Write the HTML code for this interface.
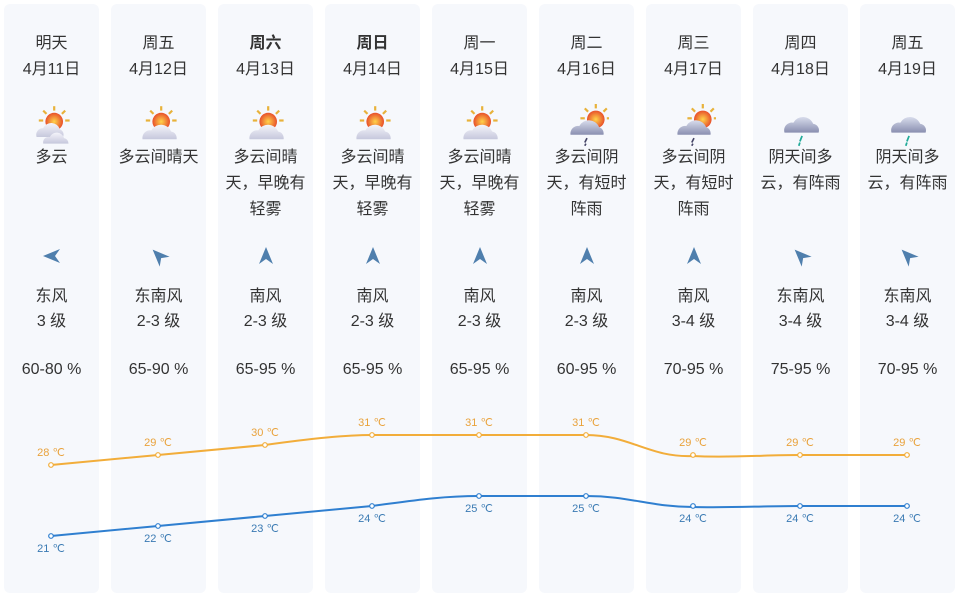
<!DOCTYPE html>
<html><head><meta charset="utf-8"><style>
body{margin:0;width:964px;height:601px;background:#fff;position:relative;overflow:hidden;font-family:"Liberation Sans","Noto Sans CJK SC",sans-serif;color:#333}
.c{position:absolute;top:4px;width:95px;height:589px;background:#f6f8fc;border-radius:6px;text-align:center;font-size:16px}
.c div{position:absolute;left:-4px;width:103px}
.d{top:27px;line-height:26px}
.ds{top:141px;line-height:26px}
.w{top:280px;line-height:25px}
.h{top:357px}
.ic{position:absolute;left:26px;top:100px}
.ar{position:absolute;left:37px;top:241px}
b{font-weight:bold}
</style></head><body>
<svg width="0" height="0" style="position:absolute">
<defs>
<linearGradient id="cl" x1="0" y1="0" x2="0" y2="1"><stop offset="0" stop-color="#f4f4fa"/><stop offset="1" stop-color="#c6c8dc"/></linearGradient>
<linearGradient id="dk" x1="0" y1="0" x2="0" y2="1"><stop offset="0" stop-color="#d8dcec"/><stop offset="1" stop-color="#8a8fb0"/></linearGradient>
<radialGradient id="sn"><stop offset="0" stop-color="#ffd34a"/><stop offset="1" stop-color="#e8502a"/></radialGradient>
<g id="sun"><g stroke="#e8b23a" stroke-width="2"><line x1="22" y1="2" x2="22" y2="6"/><line x1="12" y1="6" x2="15" y2="9"/><line x1="32" y1="6" x2="29" y2="9"/><line x1="8" y1="15" x2="12" y2="15"/><line x1="36" y1="15" x2="32" y2="15"/></g><circle cx="22" cy="16" r="8" fill="url(#sn)"/></g>
<g id="i1"><use href="#sun"/><path d="M6 30a6 6 0 0 1 6-8a8 8 0 0 1 15 1a5 5 0 0 1 3 7z" fill="url(#cl)"/><path d="M12 36a5 5 0 0 1 6-6a7 7 0 0 1 13 1a5 5 0 0 1 4 5z" fill="url(#cl)"/></g>
<g id="i2"><use href="#sun"/><path d="M5 32a7 7 0 0 1 8-8a10 10 0 0 1 18 1a6 6 0 0 1 5 7z" fill="url(#cl)"/></g>
<g id="i3"><use href="#sun" transform="translate(6,-2)"/><path d="M5 28a7 7 0 0 1 8-8a10 10 0 0 1 18 1a6 6 0 0 1 4 7z" fill="url(#dk)"/><path d="M20 31l-2 4M19 36l-1 2" stroke="#446" stroke-width="1.5"/></g>
<g id="i4"><path d="M5 26a7 7 0 0 1 8-9a10 10 0 0 1 18 1a6 6 0 0 1 5 8z" fill="url(#dk)"/><path d="M21 29l-2 5M19 35l-1 3" stroke="#2a9" stroke-width="1.6"/></g>
<polygon id="ar" points="0,-9 7,8 0,3 -7,8" fill="#4f7fad"/>
</defs></svg>

<div class="c" style="left:4px"><div class="d">明天<br>4月11日</div><svg class="ic" width="44" height="44" viewBox="0 0 40 40"><use href="#i1"/></svg><div class="ds">多云</div><svg class="ar" width="22" height="22"><use href="#ar" transform="translate(11,11) rotate(-90)"/></svg><div class="w">东风<br>3 级</div><div class="h">60-80 %</div></div>
<div class="c" style="left:111px"><div class="d">周五<br>4月12日</div><svg class="ic" width="44" height="44" viewBox="0 0 40 40"><use href="#i2"/></svg><div class="ds">多云间晴天</div><svg class="ar" width="22" height="22"><use href="#ar" transform="translate(11,11) rotate(-45)"/></svg><div class="w">东南风<br>2-3 级</div><div class="h">65-90 %</div></div>
<div class="c" style="left:218px"><div class="d"><b>周六</b><br>4月13日</div><svg class="ic" width="44" height="44" viewBox="0 0 40 40"><use href="#i2"/></svg><div class="ds">多云间晴<br>天，早晚有<br>轻雾</div><svg class="ar" width="22" height="22"><use href="#ar" transform="translate(11,11)"/></svg><div class="w">南风<br>2-3 级</div><div class="h">65-95 %</div></div>
<div class="c" style="left:325px"><div class="d"><b>周日</b><br>4月14日</div><svg class="ic" width="44" height="44" viewBox="0 0 40 40"><use href="#i2"/></svg><div class="ds">多云间晴<br>天，早晚有<br>轻雾</div><svg class="ar" width="22" height="22"><use href="#ar" transform="translate(11,11)"/></svg><div class="w">南风<br>2-3 级</div><div class="h">65-95 %</div></div>
<div class="c" style="left:432px"><div class="d">周一<br>4月15日</div><svg class="ic" width="44" height="44" viewBox="0 0 40 40"><use href="#i2"/></svg><div class="ds">多云间晴<br>天，早晚有<br>轻雾</div><svg class="ar" width="22" height="22"><use href="#ar" transform="translate(11,11)"/></svg><div class="w">南风<br>2-3 级</div><div class="h">65-95 %</div></div>
<div class="c" style="left:539px"><div class="d">周二<br>4月16日</div><svg class="ic" width="44" height="44" viewBox="0 0 40 40"><use href="#i3"/></svg><div class="ds">多云间阴<br>天，有短时<br>阵雨</div><svg class="ar" width="22" height="22"><use href="#ar" transform="translate(11,11)"/></svg><div class="w">南风<br>2-3 级</div><div class="h">60-95 %</div></div>
<div class="c" style="left:646px"><div class="d">周三<br>4月17日</div><svg class="ic" width="44" height="44" viewBox="0 0 40 40"><use href="#i3"/></svg><div class="ds">多云间阴<br>天，有短时<br>阵雨</div><svg class="ar" width="22" height="22"><use href="#ar" transform="translate(11,11)"/></svg><div class="w">南风<br>3-4 级</div><div class="h">70-95 %</div></div>
<div class="c" style="left:753px"><div class="d">周四<br>4月18日</div><svg class="ic" width="44" height="44" viewBox="0 0 40 40"><use href="#i4"/></svg><div class="ds">阴天间多<br>云，有阵雨</div><svg class="ar" width="22" height="22"><use href="#ar" transform="translate(11,11) rotate(-45)"/></svg><div class="w">东南风<br>3-4 级</div><div class="h">75-95 %</div></div>
<div class="c" style="left:860px"><div class="d">周五<br>4月19日</div><svg class="ic" width="44" height="44" viewBox="0 0 40 40"><use href="#i4"/></svg><div class="ds">阴天间多<br>云，有阵雨</div><svg class="ar" width="22" height="22"><use href="#ar" transform="translate(11,11) rotate(-45)"/></svg><div class="w">东南风<br>3-4 级</div><div class="h">70-95 %</div></div>

<svg width="964" height="601" style="position:absolute;left:0;top:0" font-family="Liberation Sans, sans-serif" font-size="11" text-anchor="middle">
<path d="M51 465L158 455L265 445C300 440 340 435 372 435L586 435C630 435 650 458 693 456C730 458 760 455 800 455L907 455" fill="none" stroke="#f2ad3a" stroke-width="2"/>
<path d="M51 536L158 526L265 516L372 506C410 501 440 496 479 496L586 496C630 496 650 507 693 507C730 508 760 506 800 506L907 506" fill="none" stroke="#2f7fd0" stroke-width="2"/>
<g fill="#fff" stroke="#f2ad3a" stroke-width="1.2">
<circle cx="51" cy="465" r="2.3"/><circle cx="158" cy="455" r="2.3"/><circle cx="265" cy="445" r="2.3"/><circle cx="372" cy="435" r="2.3"/><circle cx="479" cy="435" r="2.3"/><circle cx="586" cy="435" r="2.3"/><circle cx="693" cy="455" r="2.3"/><circle cx="800" cy="455" r="2.3"/><circle cx="907" cy="455" r="2.3"/></g>
<g fill="#fff" stroke="#2f7fd0" stroke-width="1.2">
<circle cx="51" cy="536" r="2.3"/><circle cx="158" cy="526" r="2.3"/><circle cx="265" cy="516" r="2.3"/><circle cx="372" cy="506" r="2.3"/><circle cx="479" cy="496" r="2.3"/><circle cx="586" cy="496" r="2.3"/><circle cx="693" cy="506" r="2.3"/><circle cx="800" cy="506" r="2.3"/><circle cx="907" cy="506" r="2.3"/></g>
<g fill="#e9a23b">
<text x="51" y="456">28 ℃</text><text x="158" y="446">29 ℃</text><text x="265" y="436">30 ℃</text><text x="372" y="426">31 ℃</text><text x="479" y="426">31 ℃</text><text x="586" y="426">31 ℃</text><text x="693" y="446">29 ℃</text><text x="800" y="446">29 ℃</text><text x="907" y="446">29 ℃</text></g>
<g fill="#3a7ab3">
<text x="51" y="552">21 ℃</text><text x="158" y="542">22 ℃</text><text x="265" y="532">23 ℃</text><text x="372" y="522">24 ℃</text><text x="479" y="512">25 ℃</text><text x="586" y="512">25 ℃</text><text x="693" y="522">24 ℃</text><text x="800" y="522">24 ℃</text><text x="907" y="522">24 ℃</text></g>
</svg>
</body></html>
